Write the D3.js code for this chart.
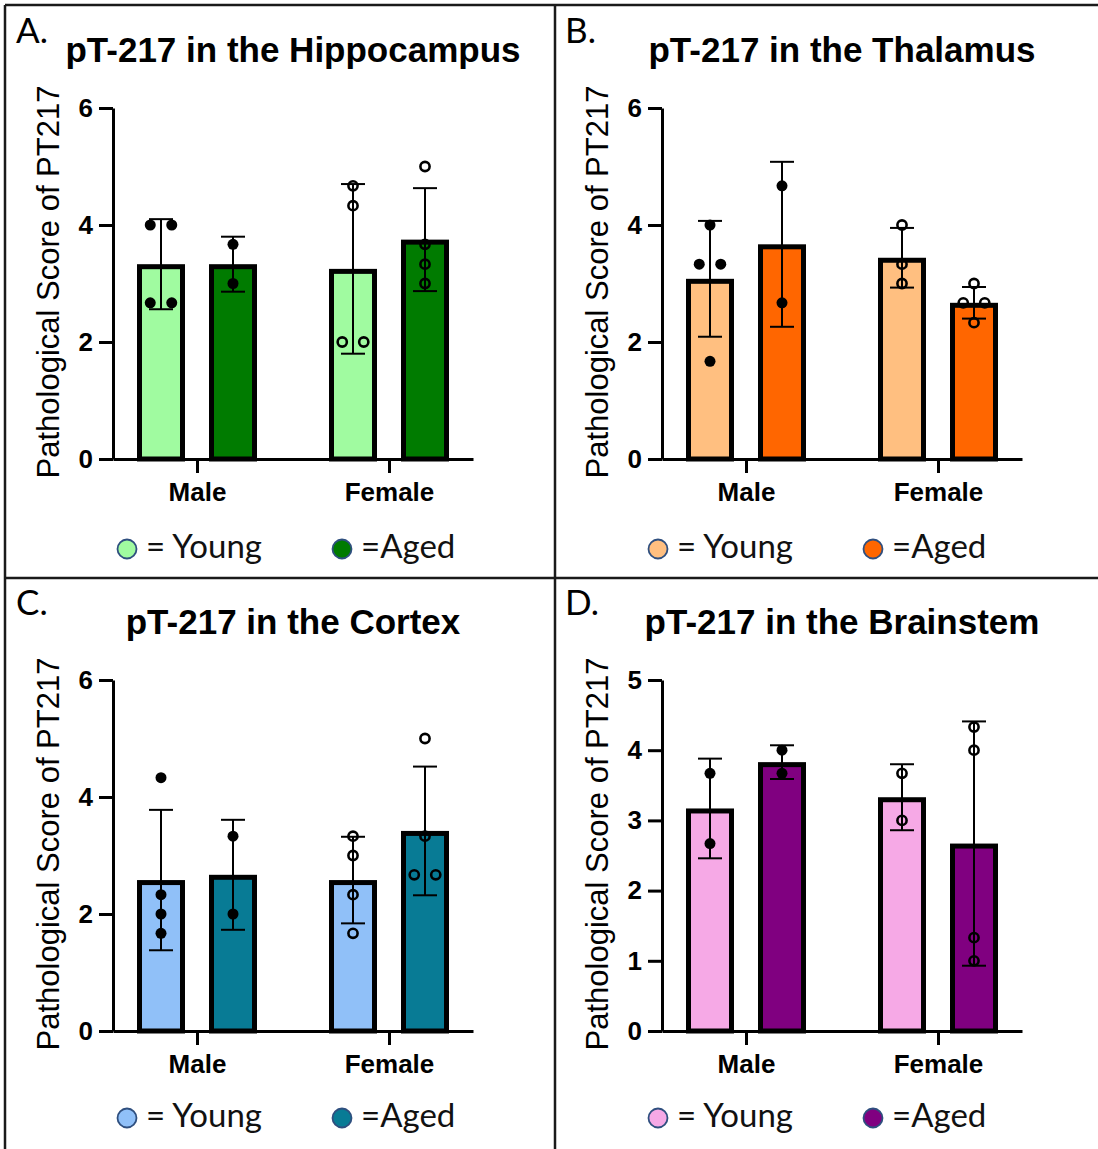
<!DOCTYPE html>
<html lang="en">
<head>
<meta charset="utf-8">
<title>pT-217 pathological scores</title>
<script src="https://cdnjs.cloudflare.com/ajax/libs/d3/7.8.5/d3.min.js"></script>
<style>
  body { margin: 0; background: #fff; }
  svg { display: block; }
</style>
</head>
<body>
<script>
// categories
var groups = ["Male", "Female"];
var ages = ["Young", "Aged"];

// hippocampus  [Male:[young, aged], Female:[young, aged]]
var hippoMeans = [[3.33, 3.33], [3.25, 3.75]];
var hippoSD = [[0.77, 0.47], [1.45, 0.88]];
var hippoPoints = [[[4, 4, 2.67, 2.67], [3.67, 3.0]], [[4.67, 4.33, 2, 2], [5, 3.67, 3.33, 3]]];

// thalamus
var thalMeans = [[3.08, 3.67], [3.44, 2.67]];
var thalSD = [[0.99, 1.41], [0.51, 0.27]];
var thalPoints = [[[4, 3.33, 3.33, 1.67], [4.67, 2.67]], [[4, 3.33, 3], [3, 2.67, 2.67, 2.33]]];

// cortex
var cortexMeans = [[2.58, 2.67], [2.58, 3.42]];
var cortexSD = [[1.20, 0.94], [0.74, 1.10]];
var cortexPoints = [[[4.33, 2.33, 2, 1.67], [3.33, 2]], [[3.33, 3, 2.33, 1.67], [5, 3.33, 2.67, 2.67]]];

// brainstem
var stemMeans = [[3.17, 3.83], [3.33, 2.67]];
var stemSD = [[0.71, 0.24], [0.47, 1.74]];
var stemPoints = [[[3.67, 2.67], [4, 3.67]], [[3.67, 3], [4.33, 4, 1.33, 1]]];

// tick labels
var ticks6 = [0, 2, 4, 6];
var ticks5 = [0, 1, 2, 3, 4, 5];

var panels = [
  {letter: "A.", title: "pT-217 in the Hippocampus", means: hippoMeans, sd: hippoSD, points: hippoPoints,
   colors: ["#a0fba0", "#007b00"], yMax: 6, ticks: ticks6},
  {letter: "B.", title: "pT-217 in the Thalamus", means: thalMeans, sd: thalSD, points: thalPoints,
   colors: ["#ffbf80", "#ff6600"], yMax: 6, ticks: ticks6},
  {letter: "C.", title: "pT-217 in the Cortex", means: cortexMeans, sd: cortexSD, points: cortexPoints,
   colors: ["#90c0f8", "#087b95"], yMax: 6, ticks: ticks6},
  {letter: "D.", title: "pT-217 in the Brainstem", means: stemMeans, sd: stemSD, points: stemPoints,
   colors: ["#f6a9e6", "#800080"], yMax: 5, ticks: ticks5}
];

// layout of the 2x2 grid
var origins = [[0, 0], [549, 0], [0, 572], [549, 572]];
var legendX = [127, 109, 127, 109];
var legendY = [558, 558, 555, 555];

var W = 1098, H = 1149;
var svg = d3.select("body").append("svg")
  .attr("width", W).attr("height", H);

svg.append("rect").attr("width", W).attr("height", H).attr("fill", "#fff");

var sans = "'Liberation Sans', Arial, sans-serif";
var humanist = "Lato, 'Open Sans', sans-serif";

panels.forEach(function(p, k) {
  var g = svg.append("g")
    .attr("transform", "translate(" + origins[k][0] + "," + origins[k][1] + ")");

  var y = d3.scaleLinear().domain([0, p.yMax]).range([459, 108]);
  var x = d3.scalePoint().domain(groups).range([113, 473]).padding(0.4375);
  var sub = d3.scalePoint().domain(ages).range([-36, 36]);
  var barW = 43, bw = 5;

  // letter + title
  g.append("text").text(p.letter)
    .attr("x", 16).attr("y", 43)
    .attr("font-family", humanist).attr("font-size", "35px");
  g.append("text").text(p.title)
    .attr("x", 293).attr("y", 62)
    .attr("text-anchor", "middle")
    .attr("font-family", sans).attr("font-weight", "bold").attr("font-size", "35px");

  // y label
  g.append("text").text("Pathological Score of PT217")
    .attr("transform", "translate(59,282) rotate(-90)")
    .attr("text-anchor", "middle")
    .attr("font-family", sans).attr("font-size", "31px");

  // bars (border kept inside the value)
  var cells = [];
  groups.forEach(function(gr, i) {
    ages.forEach(function(a, j) {
      cells.push({group: gr, age: a, mean: p.means[i][j], sd: p.sd[i][j],
                  pts: p.points[i][j], color: p.colors[j], open: gr == "Female"});
    });
  });

  g.selectAll("rect.bar").data(cells).enter().append("rect")
    .attr("class", "bar")
    .attr("x", function(d) { return x(d.group) + sub(d.age) - barW / 2; })
    .attr("y", function(d) { return y(d.mean) + bw / 2; })
    .attr("width", barW)
    .attr("height", function(d) { return y(0) - y(d.mean) - bw / 2; })
    .attr("fill", function(d) { return d.color; })
    .attr("stroke", "#000").attr("stroke-width", bw);

  // axes
  var yAxis = g.append("g").attr("transform", "translate(113,0)")
    .call(d3.axisLeft(y).tickValues(p.ticks).tickFormat(d3.format("d"))
      .tickSize(14).tickSizeOuter(0).tickPadding(6));
  var xAxis = g.append("g").attr("transform", "translate(0,459)")
    .call(d3.axisBottom(x).tickSize(14).tickSizeOuter(0).tickPadding(10));
  [yAxis, xAxis].forEach(function(ax) {
    ax.select(".domain").attr("stroke", "#000").attr("stroke-width", 3);
    ax.selectAll(".tick line").attr("stroke", "#000").attr("stroke-width", 3);
    ax.selectAll(".tick text")
      .attr("fill", "#000")
      .attr("font-family", sans).attr("font-weight", "bold").attr("font-size", "26px");
  });

  // error bars
  var eb = g.selectAll("g.err").data(cells).enter().append("g").attr("class", "err")
    .attr("stroke", "#000").attr("stroke-width", 2);
  eb.append("line")
    .attr("x1", function(d) { return x(d.group) + sub(d.age); })
    .attr("x2", function(d) { return x(d.group) + sub(d.age); })
    .attr("y1", function(d) { return y(d.mean + d.sd); })
    .attr("y2", function(d) { return y(d.mean - d.sd); });
  [1, -1].forEach(function(s) {
    eb.append("line")
      .attr("x1", function(d) { return x(d.group) + sub(d.age) - 12; })
      .attr("x2", function(d) { return x(d.group) + sub(d.age) + 12; })
      .attr("y1", function(d) { return y(d.mean + s * d.sd); })
      .attr("y2", function(d) { return y(d.mean + s * d.sd); });
  });

  // individual points; equal values are spread sideways
  var dots = [];
  cells.forEach(function(c) {
    var cx = x(c.group) + sub(c.age);
    c.pts.forEach(function(v, n) {
      var same = c.pts.filter(function(w) { return w == v; }).length;
      var rank = c.pts.slice(0, n).filter(function(w) { return w == v; }).length;
      dots.push({cx: cx + (rank - (same - 1) / 2) * 21.5, v: v, open: c.open});
    });
  });
  g.selectAll("circle.pt").data(dots).enter().append("circle")
    .attr("class", "pt")
    .attr("cx", function(d) { return d.cx; })
    .attr("cy", function(d) { return y(d.v); })
    .attr("r", function(d) { return d.open ? 4.6 : 5.5; })
    .attr("fill", function(d) { return d.open ? "none" : "#000"; })
    .attr("stroke", "#000")
    .attr("stroke-width", function(d) { return d.open ? 2.6 : 0; });

  // legend
  var lx = legendX[k], ly = legendY[k];
  var legendItems = [
    {label: "= Young", color: p.colors[0], dx: 0},
    {label: "=Aged", color: p.colors[1], dx: 215}
  ];
  legendItems.forEach(function(it) {
    g.append("circle")
      .attr("cx", lx + it.dx).attr("cy", ly - 9).attr("r", 9.5)
      .attr("fill", it.color).attr("stroke", "#2f4f7f").attr("stroke-width", 1.8);
    g.append("text").text(it.label)
      .attr("x", lx + it.dx + 19).attr("y", ly)
      .attr("font-family", humanist).attr("font-size", "33px").attr("fill", "#111");
  });
});

// frame lines
var frame = [
  [5, 5, W, 5], [5, 5, 5, H], [555, 5, 555, H], [5, 578, W, 578]
];
svg.selectAll("line.frame").data(frame).enter().append("line")
  .attr("class", "frame")
  .attr("x1", function(d) { return d[0]; }).attr("y1", function(d) { return d[1]; })
  .attr("x2", function(d) { return d[2]; }).attr("y2", function(d) { return d[3]; })
  .attr("stroke", "#1a1a1a").attr("stroke-width", 2.5);
</script>
</body>
</html>
